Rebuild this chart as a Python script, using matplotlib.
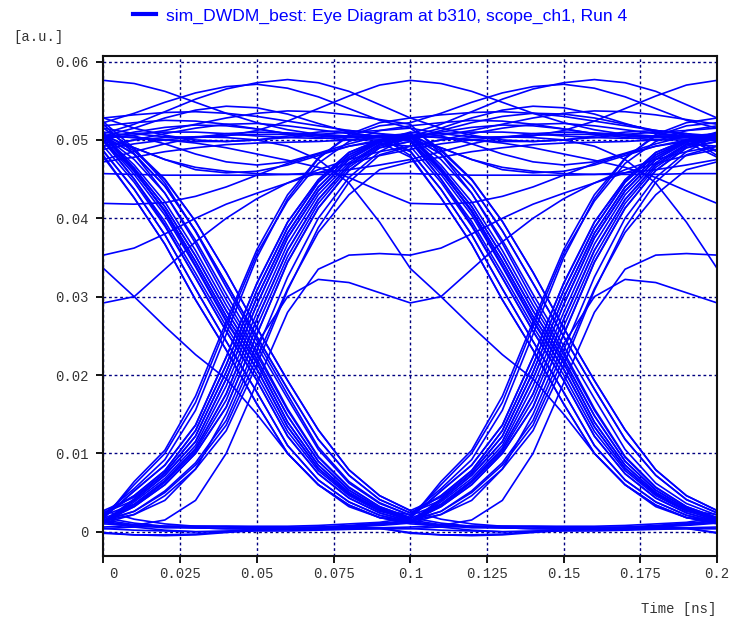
import numpy as np
import matplotlib.pyplot as plt
from matplotlib.lines import Line2D
from matplotlib.transforms import ScaledTranslation

# scope_ch1 waveform, one row per bit slot (0.1 ns), 10 samples per slot (0.01 ns each)
# values in 1e-4 a.u.
bit_slots = [
    [523, 489, 445, 383, 312, 244, 175, 108, 64, 37],
    [21, 35, 65, 106, 176, 271, 359, 424, 468, 494],
    [505, 515, 528, 538, 543, 541, 533, 521, 510, 503],
    [500, 460, 410, 345, 275, 215, 140, 85, 50, 28],
    [15, 9, 6, 5, 4, 4, 4, 5, 5, 5],
    [-2, -4, -4, -3, 0, 3, 4, 5, 7, 10],
    [14, 26, 52, 88, 142, 232, 325, 400, 452, 485],
    [505, 482, 441, 384, 317, 249, 182, 118, 72, 41],
    [24, 46, 78, 129, 213, 308, 388, 446, 481, 499],
    [510, 505, 495, 482, 472, 468, 472, 483, 495, 505],
    [508, 520, 536, 552, 565, 573, 577, 573, 562, 545],
    [528, 515, 506, 500, 498, 500, 505, 510, 512, 508],
    [500, 450, 392, 324, 256, 193, 122, 74, 43, 24],
    [13, 40, 72, 115, 195, 290, 375, 435, 475, 497],
    [500, 456, 404, 338, 268, 207, 134, 81, 48, 27],
    [22, 55, 92, 155, 252, 350, 425, 476, 507, 522],
    [528, 532, 535, 536, 534, 530, 524, 518, 512, 508],
    [505, 503, 500, 498, 498, 500, 503, 507, 510, 512],
    [515, 488, 450, 396, 331, 260, 193, 130, 79, 46],
    [27, 16, 10, 7, 6, 5, 5, 5, 6, 8],
    [11, 22, 46, 80, 129, 213, 308, 388, 446, 481],
    [492, 500, 508, 515, 520, 521, 518, 513, 508, 505],
    [480, 426, 367, 296, 232, 163, 100, 60, 34, 18],
    [13, 42, 75, 122, 204, 299, 381, 440, 478, 498],
    [505, 468, 421, 359, 289, 226, 155, 95, 56, 32],
    [18, 11, 7, 5, 4, 3, 3, 3, 4, 4],
    [4, 2, 1, 0, 0, 1, 1, 2, 3, 4],
    [4, 6, 7, 7, 7, 7, 7, 8, 10, 12],
    [18, 52, 85, 136, 223, 317, 395, 449, 484, 500],
    [485, 437, 379, 310, 243, 178, 110, 66, 38, 21],
    [12, 32, 60, 100, 159, 252, 344, 413, 461, 490],
    [498, 490, 475, 462, 458, 460, 468, 480, 492, 500],
    [505, 464, 415, 352, 282, 220, 148, 90, 53, 30],
    [16, 64, 104, 173, 268, 360, 430, 477, 505, 518],
    [522, 534, 548, 560, 568, 571, 566, 555, 540, 525],
    [515, 508, 504, 503, 505, 512, 524, 540, 556, 570],
    [576, 572, 562, 548, 534, 522, 513, 507, 504, 503],
    [505, 482, 441, 384, 317, 249, 182, 118, 72, 41],
    [24, 40, 72, 115, 195, 290, 375, 435, 475, 497],
    [478, 426, 367, 296, 232, 163, 100, 60, 34, 18],
    [13, 8, 5, 5, 4, 4, 4, 4, 5, 5],
    [6, 8, 15, 40, 100, 190, 280, 335, 353, 355],
    [353, 362, 380, 400, 418, 432, 445, 458, 470, 480],
    [488, 495, 500, 504, 506, 507, 507, 506, 505, 505],
    [505, 475, 432, 372, 303, 237, 170, 105, 62, 36],
    [21, 46, 78, 129, 213, 308, 388, 446, 481, 499],
    [505, 490, 475, 465, 460, 457, 456, 456, 456, 457],
    [457, 456, 455, 455, 455, 455, 456, 458, 462, 468],
    [475, 485, 495, 503, 508, 510, 509, 507, 505, 505],
    [505, 503, 500, 496, 490, 482, 474, 465, 452, 435],
    [419, 418, 420, 428, 440, 455, 470, 482, 492, 498],
    [505, 460, 410, 345, 275, 215, 140, 85, 50, 28],
    [14, 22, 40, 80, 150, 240, 300, 322, 318, 305],
    [292, 300, 335, 370, 400, 425, 445, 462, 475, 485],
    [492, 500, 503, 504, 503, 500, 492, 475, 445, 395],
    [336, 300, 262, 226, 195, 150, 100, 60, 32, 18],
    [10, 8, 7, 7, 7, 6, 6, 6, 7, 9],
    [12, 38, 68, 110, 186, 280, 367, 430, 471, 495],
    [492, 446, 390, 324, 256, 193, 122, 74, 43, 24],
    [13, 35, 65, 106, 176, 271, 359, 424, 468, 494],
    [502, 510, 516, 519, 518, 514, 508, 503, 500, 500],
    [502, 506, 512, 520, 528, 534, 537, 536, 532, 526],
    [520, 482, 432, 368, 296, 230, 157, 96, 57, 32],
    [18, 52, 85, 136, 223, 317, 395, 449, 484, 500],
    [508, 462, 408, 340, 270, 208, 134, 81, 48, 27],
    [14, 26, 50, 85, 136, 222, 310, 382, 430, 462],
    [472, 478, 485, 490, 494, 496, 497, 498, 500, 503],
    [508, 486, 449, 396, 331, 260, 193, 130, 79, 46],
    [27, 44, 75, 122, 204, 299, 381, 440, 478, 498],
    [505, 508, 510, 510, 508, 505, 503, 502, 503, 506],
    [486, 437, 379, 310, 243, 178, 110, 66, 38, 21],
    [12, 6, 2, 0, 1, 2, 3, 3, 4, 4],
    [-1, -4, -5, -4, -1, 2, 4, 6, 8, 11],
    [14, 32, 60, 100, 159, 252, 344, 413, 461, 490],
    [498, 450, 396, 330, 262, 200, 128, 78, 46, 26],
    [18, 60, 100, 165, 262, 355, 422, 470, 498, 512],
    [518, 522, 525, 524, 520, 514, 508, 505, 503, 503],
    [503, 464, 415, 352, 282, 220, 148, 90, 53, 30],
    [17, 33, 63, 103, 168, 262, 351, 419, 465, 492],
    [502, 512, 522, 530, 534, 533, 528, 520, 512, 506],
]
last_sample = 504

title = "sim_DWDM_best: Eye Diagram at b310, scope_ch1, Run 4"
x_ticks = [0, 0.025, 0.05, 0.075, 0.1, 0.125, 0.15, 0.175, 0.2]
x_labels = ["0", "0.025", "0.05", "0.075", "0.1", "0.125", "0.15", "0.175", "0.2"]
y_ticks = [0, 0.01, 0.02, 0.03, 0.04, 0.05, 0.06]
y_labels = ["0", "0.01", "0.02", "0.03", "0.04", "0.05", "0.06"]

wave = np.array(sum(bit_slots, []) + [last_sample]) * 1e-4
t = np.arange(21) * 0.01  # two bit slots per sweep

fig = plt.figure(figsize=(7.34, 6.23), dpi=100)
ax = fig.add_axes([0.141, 0.1075, 0.836, 0.8025])

# eye: overlapping 2-bit sweeps, stepping one bit each time
for k in range(len(bit_slots) - 1):
    ax.plot(t, wave[10 * k:10 * k + 21], color="#0000ff", lw=1.2)

ax.set_xlim(0, 0.2)
ax.set_ylim(-0.0031, 0.0607)
ax.set_xticks(x_ticks)
ax.set_xticklabels(x_labels)
ax.set_yticks(y_ticks)
ax.set_yticklabels(y_labels)

mono = {"family": "Liberation Mono", "size": 10}
for lab in ax.get_xticklabels() + ax.get_yticklabels():
    lab.set_fontfamily("Liberation Mono")
    lab.set_fontsize(10)
ax.tick_params(direction="out", length=5, width=1.3, color="black",
               labelcolor="#333333", pad=3)
ax.tick_params(axis="y", pad=6)

# the "0" under the corner sits a bit to the right of its tick
lab0 = ax.get_xticklabels()[0]
lab0.set_transform(lab0.get_transform() + ScaledTranslation(7 / 72, 0, fig.dpi_scale_trans))

ax.grid(True, color="#000080", linestyle=(0, (2, 2)), linewidth=1.0)
ax.set_axisbelow(True)
for s in ax.spines.values():
    s.set_linewidth(1.5)
    s.set_color("#111111")

fig.text(13 / 734, 1 - 37 / 623, "[a.u.]", color="#333333", va="center", ha="left", **mono)
fig.text(716 / 734, 1 - 609 / 623, "Time [ns]", color="#333333", va="center", ha="right", **mono)

proxy = Line2D([], [], color="#0000ff", lw=3)
fig.legend(handles=[proxy], labels=[title], loc="center left",
           bbox_to_anchor=(133 / 734, 1 - 16 / 623), frameon=False,
           handlelength=1.3, handletextpad=0.6, borderpad=0, borderaxespad=0,
           prop={"family": "Liberation Sans", "size": 12.6}, labelcolor="#0000ff")

fig.savefig("out.png", dpi=100)
